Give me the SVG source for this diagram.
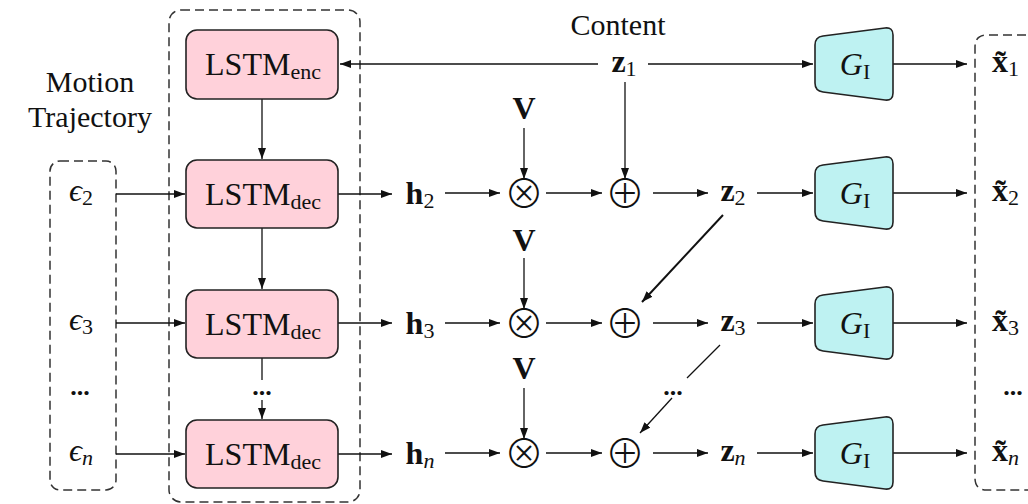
<svg xmlns="http://www.w3.org/2000/svg" width="1028" height="504" viewBox="0 0 1028 504">
<style>
.t{font-family:"Liberation Serif","DejaVu Serif",serif;fill:#111;}
.m{font-size:32px;text-anchor:middle;}
.b{font-weight:bold;}
.lbl{font-size:30px;text-anchor:middle;}
.sub{font-size:22px;}
.dots{font-size:26px;font-weight:bold;text-anchor:middle;}
.dash{fill:none;stroke:#333;stroke-width:1.5;stroke-dasharray:9 5;}
.lstm{fill:#FFD1DA;stroke:#222;stroke-width:1.6;}
.gen{fill:#BEF2F2;stroke:#222;stroke-width:1.6;}
.c{fill:none;stroke:#111;stroke-width:1.3;}
.ca{fill:none;stroke:#111;stroke-width:1.3;marker-end:url(#ah);}
.op{font-family:"Noto Sans CJK JP","DejaVu Sans",sans-serif;font-weight:300;font-size:40px;text-anchor:middle;fill:#111;}
</style>
<defs>
<marker id="ah" markerUnits="userSpaceOnUse" markerWidth="12" markerHeight="10" refX="11" refY="4" orient="auto">
<path d="M0,0 L11,4 L0,8 Z" fill="#111"/>
</marker>
<path id="trap" d="M -39,-19 Q -39,-27 -31,-28 L 31,-36 Q 39,-37 39,-29 L 39,29 Q 39,37 31,36 L -31,28 Q -39,27 -39,19 Z"/>
</defs>

<!-- dashed group boxes -->
<g id="lstm-group"><rect class="dash" x="169" y="10" width="191" height="492" rx="12"/></g>
<g id="motion-group"><rect class="dash" x="50" y="161" width="66" height="329" rx="10"/></g>
<g id="output-group"><path class="dash" d="M1040,35 H987 Q975,35 975,47 V478 Q975,490 987,490 H1040"/></g>

<g id="motion-label" class="t lbl">
<text x="90" y="92">Motion</text>
<text x="90" y="127">Trajectory</text>
</g>
<g id="content-label" class="t lbl"><text x="618" y="35">Content</text></g>

<!-- connectors -->
<g id="connectors">
<line class="ca" x1="598" y1="64" x2="340" y2="64"/>
<line class="ca" x1="648" y1="64" x2="813" y2="64"/>
<line class="ca" x1="625" y1="82" x2="625" y2="179"/>
<line class="ca" x1="262" y1="99" x2="262" y2="159"/>
<line class="ca" x1="262" y1="228" x2="262" y2="289"/>
<line class="c" x1="262" y1="358" x2="262" y2="380"/>
<line class="ca" x1="262" y1="400" x2="262" y2="419"/>
<line class="ca" x1="116" y1="194" x2="185" y2="194"/>
<line class="ca" x1="116" y1="323" x2="185" y2="323"/>
<line class="ca" x1="116" y1="454" x2="185" y2="454"/>
<line class="ca" x1="338" y1="194" x2="392" y2="194"/>
<line class="ca" x1="338" y1="323" x2="392" y2="323"/>
<line class="ca" x1="338" y1="454" x2="392" y2="454"/>
<line class="ca" x1="445" y1="193" x2="500" y2="193"/>
<line class="ca" x1="445" y1="323" x2="500" y2="323"/>
<line class="ca" x1="445" y1="453" x2="500" y2="453"/>
<line class="ca" x1="546" y1="193" x2="602" y2="193"/>
<line class="ca" x1="546" y1="323" x2="602" y2="323"/>
<line class="ca" x1="546" y1="453" x2="602" y2="453"/>
<line class="ca" x1="653" y1="193" x2="708" y2="193"/>
<line class="ca" x1="653" y1="323" x2="708" y2="323"/>
<line class="ca" x1="653" y1="453" x2="708" y2="453"/>
<line class="ca" x1="757" y1="193" x2="813" y2="193"/>
<line class="ca" x1="757" y1="323" x2="813" y2="323"/>
<line class="ca" x1="757" y1="453" x2="813" y2="453"/>
<line class="ca" x1="893" y1="64" x2="967" y2="64"/>
<line class="ca" x1="893" y1="193" x2="967" y2="193"/>
<line class="ca" x1="893" y1="323" x2="967" y2="323"/>
<line class="ca" x1="893" y1="453" x2="967" y2="453"/>
<line class="ca" x1="524" y1="128" x2="524" y2="179"/>
<line class="ca" x1="524" y1="258" x2="524" y2="309"/>
<line class="ca" x1="524" y1="388" x2="524" y2="439"/>
<line class="ca" x1="723" y1="215" x2="642" y2="302" style="stroke-width:2"/>
<line class="c" x1="720" y1="345" x2="687" y2="378"/>
<line class="ca" x1="672" y1="398" x2="640" y2="433"/>
</g>

<!-- LSTM nodes -->
<g id="lstm-enc"><rect class="lstm" x="186" y="30" width="152" height="69" rx="11"/>
<text class="t m" x="263" y="75">LSTM<tspan class="sub" dy="4">enc</tspan></text></g>
<g id="lstm-dec-2"><rect class="lstm" x="186" y="160" width="152" height="68" rx="11"/>
<text class="t m" x="263" y="205">LSTM<tspan class="sub" dy="4">dec</tspan></text></g>
<g id="lstm-dec-3"><rect class="lstm" x="186" y="290" width="152" height="68" rx="11"/>
<text class="t m" x="263" y="335">LSTM<tspan class="sub" dy="4">dec</tspan></text></g>
<g id="lstm-dec-n"><rect class="lstm" x="186" y="420" width="152" height="68" rx="11"/>
<text class="t m" x="263" y="465">LSTM<tspan class="sub" dy="4">dec</tspan></text></g>
<g id="lstm-dots"><text class="t dots" x="262" y="395">...</text></g>

<!-- epsilon inputs -->
<g id="eps-2"><text class="t m" x="81" y="201" font-style="italic">ϵ<tspan class="sub" font-style="normal" dy="4">2</tspan></text></g>
<g id="eps-3"><text class="t m" x="81" y="330" font-style="italic">ϵ<tspan class="sub" font-style="normal" dy="4">3</tspan></text></g>
<g id="eps-dots"><text class="t dots" x="80" y="395">...</text></g>
<g id="eps-n"><text class="t m" x="81" y="461" font-style="italic">ϵ<tspan class="sub" dy="4">n</tspan></text></g>

<!-- hidden states -->
<g id="h-2"><text class="t m b" x="420" y="204">h<tspan class="sub" font-weight="normal" dy="4">2</tspan></text></g>
<g id="h-3"><text class="t m b" x="420" y="334">h<tspan class="sub" font-weight="normal" dy="4">3</tspan></text></g>
<g id="h-n"><text class="t m b" x="420" y="464">h<tspan class="sub" font-weight="normal" font-style="italic" dy="4">n</tspan></text></g>

<!-- V -->
<g id="v-2"><text class="t m b" x="524" y="119">V</text></g>
<g id="v-3"><text class="t m b" x="524" y="251">V</text></g>
<g id="v-n"><text class="t m b" x="524" y="379">V</text></g>

<!-- operators -->
<g id="otimes-2"><text class="op" x="524" y="208">⊗</text></g>
<g id="otimes-3"><text class="op" x="524" y="338">⊗</text></g>
<g id="otimes-n"><text class="op" x="524" y="468">⊗</text></g>
<g id="oplus-2"><text class="op" x="625" y="208">⊕</text></g>
<g id="oplus-3"><text class="op" x="625" y="338">⊕</text></g>
<g id="oplus-n"><text class="op" x="625" y="468">⊕</text></g>

<!-- z -->
<g id="z-1"><text class="t m b" x="624" y="72">z<tspan class="sub" font-weight="normal" dy="4">1</tspan></text></g>
<g id="z-2"><text class="t m b" x="733" y="201">z<tspan class="sub" font-weight="normal" dy="4">2</tspan></text></g>
<g id="z-3"><text class="t m b" x="733" y="331">z<tspan class="sub" font-weight="normal" dy="4">3</tspan></text></g>
<g id="z-dots"><text class="t dots" x="673" y="395">...</text></g>
<g id="z-n"><text class="t m b" x="733" y="461">z<tspan class="sub" font-weight="normal" font-style="italic" dy="4">n</tspan></text></g>

<!-- generators -->
<g id="gen-1"><use href="#trap" class="gen" transform="translate(854,64)"/>
<text class="t m" x="855" y="75"><tspan font-style="italic">G</tspan><tspan class="sub" dy="4">I</tspan></text></g>
<g id="gen-2"><use href="#trap" class="gen" transform="translate(854,193)"/>
<text class="t m" x="855" y="204"><tspan font-style="italic">G</tspan><tspan class="sub" dy="4">I</tspan></text></g>
<g id="gen-3"><use href="#trap" class="gen" transform="translate(854,323)"/>
<text class="t m" x="855" y="334"><tspan font-style="italic">G</tspan><tspan class="sub" dy="4">I</tspan></text></g>
<g id="gen-n"><use href="#trap" class="gen" transform="translate(854,453)"/>
<text class="t m" x="855" y="464"><tspan font-style="italic">G</tspan><tspan class="sub" dy="4">I</tspan></text></g>

<!-- outputs -->
<g id="x-1"><text class="t b" font-size="32" x="992" y="72">x̃<tspan class="sub" font-weight="normal" dy="4">1</tspan></text></g>
<g id="x-2"><text class="t b" font-size="32" x="992" y="201">x̃<tspan class="sub" font-weight="normal" dy="4">2</tspan></text></g>
<g id="x-3"><text class="t b" font-size="32" x="992" y="331">x̃<tspan class="sub" font-weight="normal" dy="4">3</tspan></text></g>
<g id="x-dots"><text class="t dots" x="1013" y="395">...</text></g>
<g id="x-n"><text class="t b" font-size="32" x="992" y="461">x̃<tspan class="sub" font-weight="normal" font-style="italic" dy="4">n</tspan></text></g>
</svg>
